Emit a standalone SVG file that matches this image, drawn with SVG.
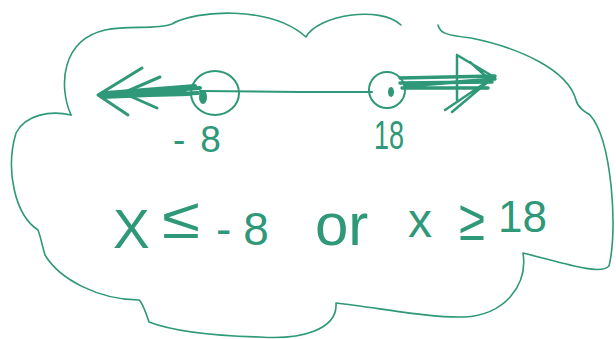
<svg xmlns="http://www.w3.org/2000/svg" width="616" height="339" viewBox="0 0 616 339">
<style>
.ink{fill:none;stroke:#2e9878;stroke-linecap:round;stroke-linejoin:round}
.cloud{stroke-width:1.6}
.t{fill:#2e9878;font-family:"Liberation Sans",Arial,sans-serif}
</style>
<rect width="616" height="339" fill="#ffffff"/>
<g id="cloud">
<path class="ink cloud" d="M71,115 C58,85 62,40 105,30 C130,25 155,30 172,24 C195,10 270,5 306,37 C318,15 380,5 401,25"/>
<path class="ink cloud" d="M438,25 C440,33 445,35 471,38 C520,48 568,70 576,100 C578,108 585,112 590,115 C612,140 618,230 609,266 C600,276 560,262 523,253 C528,285 505,315 464,317 C430,318 380,308 336,303 C338,330 300,340 260,337 C220,336 175,332 149,322 C145,310 142,302 139,300 C100,300 60,280 45,255 C42,245 41,238 38,230 C15,215 5,170 16,133 C25,115 50,110 71,115"/>
</g>
<g id="number-line">
<path class="ink" stroke-width="2" d="M200,91 L300,92 L372,92"/>
<path class="ink" stroke-width="4" d="M100,95 L200,88 M102,97 L198,93 M106,93 L195,86 M110,96 L190,94 M115,94 L185,90"/>
<path class="ink" stroke-width="3" d="M142,68 L98,95 L128,115 M160,77 L123,93 L157,108"/>
<path class="ink" stroke-width="3.5" d="M400,78 L495,76 M400,83 L492,82 M402,88 L488,88 M405,86 L495,79"/>
<path class="ink" stroke-width="2.5" d="M457,55 L494,77 L445,110 M457,55 L457,100 M470,62 L490,80 L452,112"/>
</g>
<g id="point-neg8">
<ellipse class="ink" stroke-width="2" cx="215" cy="93" rx="24" ry="22"/>
<ellipse cx="203" cy="97" rx="4" ry="7" fill="#2e9878"/>
<text class="t" x="173" y="152" font-size="37">-<tspan dx="15">8</tspan></text>
</g>
<g id="point-18">
<ellipse class="ink" stroke-width="2" cx="387" cy="90" rx="18" ry="18"/>
<ellipse cx="391" cy="92" rx="3" ry="5" fill="#2e9878"/>
<text class="t" x="374" y="149" font-size="40" textLength="30" lengthAdjust="spacingAndGlyphs">18</text>
</g>
<g id="inequality">
<text class="t" x="113" y="248" font-size="55">X</text>
<text class="t" x="162" y="238" font-size="58" textLength="38" lengthAdjust="spacingAndGlyphs">≤</text>
<text class="t" x="216" y="245" font-size="46">-<tspan dx="12">8</tspan></text>
<text class="t" x="315" y="245" font-size="60">or</text>
<text class="t" x="408" y="237" font-size="48">x</text>
<text class="t" x="459" y="240" font-size="58" textLength="26" lengthAdjust="spacingAndGlyphs">≥</text>
<text class="t" x="498" y="232" font-size="44">18</text>
</g>
</svg>
